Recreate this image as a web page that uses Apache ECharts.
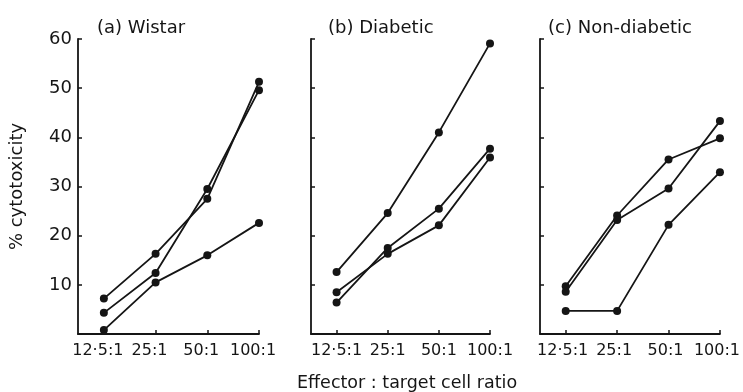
<!DOCTYPE html>
<html>
<head>
<meta charset="utf-8">
<script src="https://cdn.jsdelivr.net/npm/echarts@6/dist/echarts.min.js"></script>
<style>
  html, body { margin: 0; padding: 0; background: #fff; }
  #chart { width: 743px; height: 392px; }
</style>
</head>
<body>
<div id="chart"></div>
<script>
// effector : target ratios (x positions 0..3)
const ratioLabels = ['12·5:1', '25:1', '50:1', '100:1']
const panelTitles = ['(a) Wistar', '(b) Diabetic', '(c) Non-diabetic']
const yTicks = [10, 20, 30, 40, 50, 60]

// % cytotoxicity, three lines per panel
const wistar1 = [7.2, 16.3, 27.5, 51.3]
const wistar2 = [4.3, 12.4, 29.5, 49.6]
const wistar3 = [0.8, 10.5, 16.0, 22.6]

const diabetic1 = [12.6, 24.6, 41.0, 59.1]
const diabetic2 = [8.5, 16.3, 22.1, 35.9]
const diabetic3 = [6.4, 17.5, 25.5, 37.7]

const nonDiabetic1 = [9.7, 24.1, 35.5, 39.8]
const nonDiabetic2 = [8.6, 23.2, 29.6, 43.3]
const nonDiabetic3 = [4.7, 4.7, 22.2, 32.9]

const panels = [
  [wistar1, wistar2, wistar3],
  [diabetic1, diabetic2, diabetic3],
  [nonDiabetic1, nonDiabetic2, nonDiabetic3]
]

const ink = '#151515'
const font = 'DejaVu Sans'

const chart = echarts.init(document.getElementById('chart'))

// grid layout for the three panels
const gridLefts = [78, 311, 540]
const gridWidths = [181, 179, 180]
const titleLefts = [92, 323, 543]
const labelShift = [12, 0, 6]  // right padding, nudges tick labels left

const option = {
  animation: false,
  backgroundColor: '#fff',
  title: panelTitles.map((t, i) => ({
    text: t,
    left: titleLefts[i],
    top: 14,
    textStyle: { fontFamily: font, fontSize: 18, fontWeight: 'normal', color: ink }
  })),
  grid: gridLefts.map((l, i) => ({ left: l, top: 39, width: gridWidths[i], height: 295 })),
  xAxis: panels.map((p, i) => ({
    type: 'value',
    gridIndex: i,
    min: -0.5,
    max: 3,
    splitLine: { show: false },
    axisLine: { onZero: false, lineStyle: { color: ink, width: 1.8 } },
    axisTick: {
      inside: true,
      length: 4,
      customValues: [0, 1, 2, 3],
      lineStyle: { color: ink, width: 1.5 }
    },
    axisLabel: {
      customValues: [0, 1, 2, 3],
      formatter: v => ratioLabels[v],
      hideOverlap: false,
      showMinLabel: true,
      showMaxLabel: true,
      fontFamily: font,
      fontSize: 16,
      color: ink,
      margin: 9,
      padding: [0, labelShift[i], 0, 0]
    }
  })),
  yAxis: panels.map((p, i) => ({
    type: 'value',
    gridIndex: i,
    min: 0,
    max: 60,
    interval: 10,
    name: i === 0 ? '% cytotoxicity' : '',
    nameLocation: 'middle',
    nameGap: 52,
    nameTextStyle: { fontFamily: font, fontSize: 18, color: ink },
    splitLine: { show: false },
    axisLine: { show: true, onZero: false, lineStyle: { color: ink, width: 1.8 } },
    axisTick: { show: true, inside: true, length: 4, lineStyle: { color: ink, width: 1.5 } },
    axisLabel: {
      show: i === 0,
      formatter: v => (yTicks.includes(v) ? String(v) : ''),
      fontFamily: font,
      fontSize: 18,
      color: ink,
      margin: 6
    }
  })),
  graphic: [
    {
      type: 'text',
      left: 297,
      top: 374,
      style: { text: 'Effector : target cell ratio', font: '17.5px "DejaVu Sans"', fill: ink }
    }
  ],
  series: panels.flatMap((lines, i) =>
    lines.map(vals => ({
      type: 'line',
      xAxisIndex: i,
      yAxisIndex: i,
      data: vals.map((v, k) => [k, v]),
      symbol: 'circle',
      symbolSize: 8,
      lineStyle: { color: ink, width: 1.8 },
      itemStyle: { color: ink }
    }))
  )
}

chart.setOption(option)
</script>
</body>
</html>
